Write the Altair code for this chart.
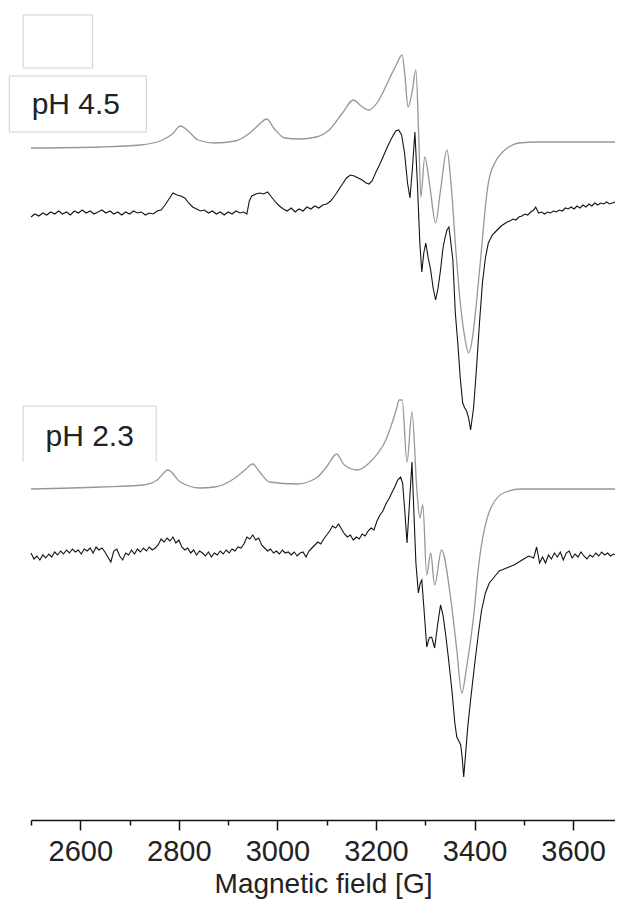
import altair as alt
import pandas as pd

# ---- data (field in G, signal in arbitrary units relative to each baseline) ----
sim45_field = [2500, 2641, 2722, 2762, 2787, 2803, 2819, 2839, 2873, 2914, 2944, 2964, 2978, 2994, 3015, 3045,
               3079, 3105, 3132, 3154, 3170, 3186, 3206, 3226, 3241, 3253, 3259, 3265, 3273, 3281, 3287, 3291,
               3299, 3309, 3321, 3331, 3344, 3352, 3362, 3372, 3380, 3388, 3396, 3404, 3414, 3422, 3428, 3442,
               3455, 3473, 3489, 3529, 3697]
sim45_signal = [-6, -5, -3, 1, 8, 16, 11, 2, -1, 1, 9, 18, 23, 13, 4, 3,
                5, 12, 29, 42, 36, 32, 42, 62, 77, 87, 65, 35, 49, 72, 2, -55,
                -15, -43, -81, -48, -8, -40, -108, -165, -195, -211, -195, -160, -108, -65, -41, -20,
                -11, -4, -1, 0, 0]

exp45_field = [2500, 2508, 2516, 2524, 2532, 2540, 2548, 2556, 2564, 2572, 2580, 2588, 2596, 2604, 2612, 2620,
               2628, 2636, 2644, 2652, 2660, 2668, 2676, 2684, 2692, 2700, 2708, 2716, 2724, 2732, 2740, 2748,
               2756, 2764, 2772, 2780, 2788, 2796, 2804, 2812, 2820, 2828, 2836, 2844, 2852, 2860, 2868, 2876,
               2884, 2892, 2900, 2908, 2916, 2924, 2932, 2938, 2943, 2948, 2956, 2964, 2972, 2980, 2988, 2996,
               3004, 3012, 3020, 3028, 3036, 3044, 3052, 3060, 3068, 3076, 3084, 3092, 3100, 3108, 3116, 3124,
               3132, 3140, 3148, 3156, 3164, 3172, 3180, 3186, 3192, 3200, 3208, 3216, 3224, 3232, 3240, 3246,
               3252, 3258, 3264, 3269, 3274, 3279, 3284, 3289, 3293, 3297, 3301, 3306, 3311, 3316, 3321, 3326,
               3331, 3336, 3340, 3344, 3348, 3352, 3356, 3361, 3366, 3371, 3376, 3380, 3384, 3388, 3392, 3398,
               3404, 3410, 3416, 3422, 3428, 3436, 3442, 3448, 3454, 3460, 3466, 3472, 3478, 3484, 3490, 3496,
               3502, 3508, 3514, 3520, 3524, 3530, 3536, 3542, 3548, 3554, 3560, 3566, 3572, 3578, 3584, 3590,
               3596, 3602, 3608, 3614, 3620, 3626, 3632, 3638, 3644, 3650, 3656, 3662, 3668, 3674, 3680, 3686, 3697]
exp45_signal = [-4, -1, -3, 0, -2, 1, -1, 2, -1, 1, -2, 2, 0, 3, 0, 2,
                -1, 1, 3, 0, 2, -1, 1, -2, 1, -1, 2, 0, 1, -2, 0, -1,
                2, 3, 8, 14, 20, 18, 17, 15, 10, 6, 4, 2, 3, 0, 2, -1,
                1, -2, 1, -1, 2, 0, 1, -1, 12, 17, 19, 20, 19, 21, 16, 11,
                7, 4, 2, 5, 1, 4, 2, 6, 4, 7, 5, 8, 9, 12, 17, 23,
                29, 35, 38, 37, 35, 33, 30, 29, 32, 41, 49, 58, 67, 75, 82, 83,
                78, 60, 30, 15, 45, 81, 30, -30, -59, -40, -30, -45, -57, -75, -87, -75,
                -57, -35, -25, -17, -14, -30, -47, -100, -130, -165, -190, -195, -198, -205, -217, -195,
                -155, -110, -70, -45, -30, -22, -19, -16, -13, -11, -9, -8, -6, -7, -4, -3,
                -1, -2, 1, 3, 6, 0, 1, -1, 1, 0, 2, 1, 3, 2, 5, 4,
                6, 4, 7, 5, 8, 6, 9, 7, 10, 8, 10, 9, 11, 9, 10, 11, 10]

sim23_field = [2500, 2641, 2728, 2756, 2778, 2803, 2843, 2873, 2914, 2934, 2950, 2964, 2984, 3039, 3079, 3101,
               3120, 3136, 3162, 3192, 3220, 3241, 3247, 3253, 3263, 3273, 3283, 3289, 3295, 3303, 3311, 3319,
               3333, 3352, 3364, 3374, 3384, 3398, 3408, 3434, 3463, 3495, 3697]
sim23_signal = [0, 2, 4, 9, 19, 7, 1, 2, 11, 19, 25, 17, 7, 5, 11, 23,
                35, 24, 19, 29, 49, 79, 89, 89, 27, 77, -1, -29, -16, -86, -64, -96,
                -61, -111, -161, -204, -178, -128, -78, -18, -3, 0, 0]

exp23_field = [2500, 2506, 2512, 2518, 2524, 2530, 2536, 2542, 2548, 2554, 2560, 2566, 2572, 2578, 2584, 2590,
               2596, 2602, 2608, 2614, 2620, 2626, 2632, 2638, 2644, 2650, 2656, 2662, 2668, 2674, 2680, 2686,
               2692, 2698, 2704, 2710, 2716, 2722, 2728, 2734, 2740, 2746, 2752, 2758, 2764, 2770, 2776, 2782,
               2788, 2794, 2800, 2806, 2812, 2818, 2824, 2830, 2836, 2842, 2848, 2854, 2860, 2866, 2872, 2878,
               2884, 2890, 2896, 2902, 2908, 2914, 2920, 2926, 2932, 2938, 2944, 2950, 2956, 2962, 2968, 2974,
               2980, 2986, 2992, 2998, 3004, 3010, 3016, 3022, 3028, 3034, 3040, 3046, 3052, 3058, 3064, 3070,
               3076, 3082, 3088, 3094, 3100, 3106, 3112, 3118, 3124, 3130, 3136, 3142, 3148, 3154, 3160, 3166,
               3172, 3178, 3184, 3190, 3196, 3202, 3208, 3214, 3220, 3226, 3232, 3238, 3244, 3250, 3254, 3258,
               3263, 3268, 3273, 3277, 3281, 3286, 3290, 3293, 3298, 3303, 3308, 3313, 3319, 3325, 3331, 3336,
               3341, 3347, 3354, 3360, 3364, 3368, 3372, 3375, 3378, 3382, 3386, 3392, 3400, 3408, 3414, 3422,
               3430, 3440, 3450, 3460, 3470, 3480, 3490, 3500, 3510, 3520, 3526, 3532, 3538, 3544, 3550, 3556,
               3562, 3568, 3574, 3580, 3586, 3592, 3598, 3604, 3610, 3616, 3622, 3628, 3634, 3640, 3646, 3652,
               3658, 3664, 3670, 3676, 3682, 3688, 3697]
exp23_signal = [0, -6, -3, -7, -2, -5, -1, -4, 1, -2, 2, -1, 3, 0, 4, 1,
                3, -1, 4, 2, 5, 0, 6, 3, 5, 1, -4, -9, 2, 4, -3, -7,
                0, -2, 3, -1, 4, 1, 5, 2, 6, 3, 5, 8, 14, 11, 15, 12,
                16, 10, 13, 6, 3, 5, 0, 3, -2, 2, 0, -3, 1, -4, 0, -2,
                2, -1, 3, 0, 4, 2, 6, 5, 9, 16, 14, 18, 13, 15, 8, 5,
                2, 4, 0, 2, -1, 3, 0, 1, -2, 1, -3, 0, 1, -4, 2, 5,
                8, 11, 9, 14, 18, 22, 27, 25, 29, 24, 19, 16, 18, 13, 16, 14,
                19, 17, 22, 25, 23, 32, 38, 42, 49, 54, 60, 66, 73, 76, 70, 45,
                10, 50, 91, 40, -10, -40, -30, -27, -60, -94, -85, -84, -95, -72, -52, -62,
                -80, -105, -137, -170, -184, -188, -192, -205, -224, -200, -175, -147, -112, -80, -58, -40,
                -30, -24, -18, -16, -14, -12, -9, -6, -3, -5, 6, -10, -4, -10, -2, -6,
                0, -4, 1, -7, 0, 2, -5, -1, -4, 1, -3, -6, -2, -4, 0, -3,
                1, -2, 0, -3, -1, -2, -2]

sim_traces = ["sim_pH45", "sim_pH23"]
sim_offsets = [678, 331]
exp_traces = ["exp_pH45", "exp_pH23"]
exp_offsets = [607, 267]
SIM_COLOR = "#979797"
EXP_COLOR = "#141414"

major_ticks = [2600, 2800, 3000, 3200, 3400, 3600]
minor_ticks = [2500, 2700, 2900, 3100, 3300, 3500, 3700]

label_text = ["pH 4.5", "pH 2.3"]
label_field = [2591, 2619]
label_val = [715, 383]

# annotation frames (field / value units)
box_x = [2484, 2456]
box_x2 = [2625, 2734]
box_y = [805, 744]
box_y2 = [752, 688]
open_box_field = [2484, 2484, 2754, 2754]
open_box_val = [358, 414, 414, 358]


def build(names, offs, fields, signals):
    rows = []
    for name, off, f, s in zip(names, offs, fields, signals):
        for a, b in zip(f, s):
            rows.append({"field": a, "y": b + off, "trace": name})
    return pd.DataFrame(rows)


sim_df = build(sim_traces, sim_offsets, [sim45_field, sim23_field], [sim45_signal, sim23_signal])
exp_df = build(exp_traces, exp_offsets, [exp45_field, exp23_field], [exp45_signal, exp23_signal])
labels_df = pd.DataFrame({"field": label_field, "y": label_val, "text": label_text})
boxes_df = pd.DataFrame({"x": box_x, "x2": box_x2, "y": box_y, "y2": box_y2})
open_df = pd.DataFrame({"field": open_box_field, "y": open_box_val, "i": list(range(4))})

XDOM = [2500, 3685]
xscale = alt.Scale(domain=XDOM, nice=False, zero=False)
yscale = alt.Scale(domain=[0, 812], nice=False, zero=False)

FONT = "Liberation Sans"

major_axis = alt.Axis(values=major_ticks, orient="bottom", format="d", tickSize=10, tickWidth=1.5,
                      tickColor="#111111", domainColor="#111111", domainWidth=1.5, grid=False,
                      labelFont=FONT, labelFontSize=29, labelColor="#222222", labelPadding=7,
                      labelFlush=False, labelOverlap=False,
                      title="Magnetic field [G]", titleFont=FONT, titleFontSize=28, titleFontWeight="normal",
                      titleColor="#222222", titlePadding=4)
minor_axis = alt.Axis(values=minor_ticks, orient="bottom", tickSize=5, tickWidth=1.5, tickColor="#111111",
                      domain=False, labels=False, grid=False, title=None)

sim_lines = alt.Chart(sim_df).mark_line(strokeWidth=1.3, color=SIM_COLOR, interpolate="monotone").encode(
    x=alt.X("field:Q", scale=xscale, axis=major_axis),
    y=alt.Y("y:Q", scale=yscale, axis=None),
    detail="trace:N",
)

exp_lines = alt.Chart(exp_df).mark_line(strokeWidth=1.1, color=EXP_COLOR).encode(
    x=alt.X("field:Q", scale=xscale, axis=None),
    y=alt.Y("y:Q", scale=yscale, axis=None),
    detail="trace:N",
)

boxes = alt.Chart(boxes_df).mark_rect(fillOpacity=0, stroke="#cfcfcf", strokeWidth=1).encode(
    x=alt.X("x:Q", scale=xscale, axis=minor_axis),
    x2="x2:Q",
    y=alt.Y("y:Q", scale=yscale, axis=None),
    y2="y2:Q",
)

open_box = alt.Chart(open_df).mark_line(color="#cfcfcf", strokeWidth=1).encode(
    x=alt.X("field:Q", scale=xscale, axis=None),
    y=alt.Y("y:Q", scale=yscale, axis=None),
    order="i:Q",
)

texts = alt.Chart(labels_df).mark_text(font=FONT, fontSize=30, color="#222222", align="center",
                                       baseline="middle").encode(
    x=alt.X("field:Q", scale=xscale, axis=None),
    y=alt.Y("y:Q", scale=yscale, axis=None),
    text="text:N",
)

chart = alt.layer(boxes, open_box, sim_lines, exp_lines, texts).resolve_axis(x="independent").properties(
    width=584, height=812,
    autosize=alt.AutoSizeParams(type="none"),
    padding={"left": 23, "top": 0, "right": 0, "bottom": 85},
).configure_view(stroke=None)

chart.save("out.html", embed_options={"renderer": "svg", "actions": False})
